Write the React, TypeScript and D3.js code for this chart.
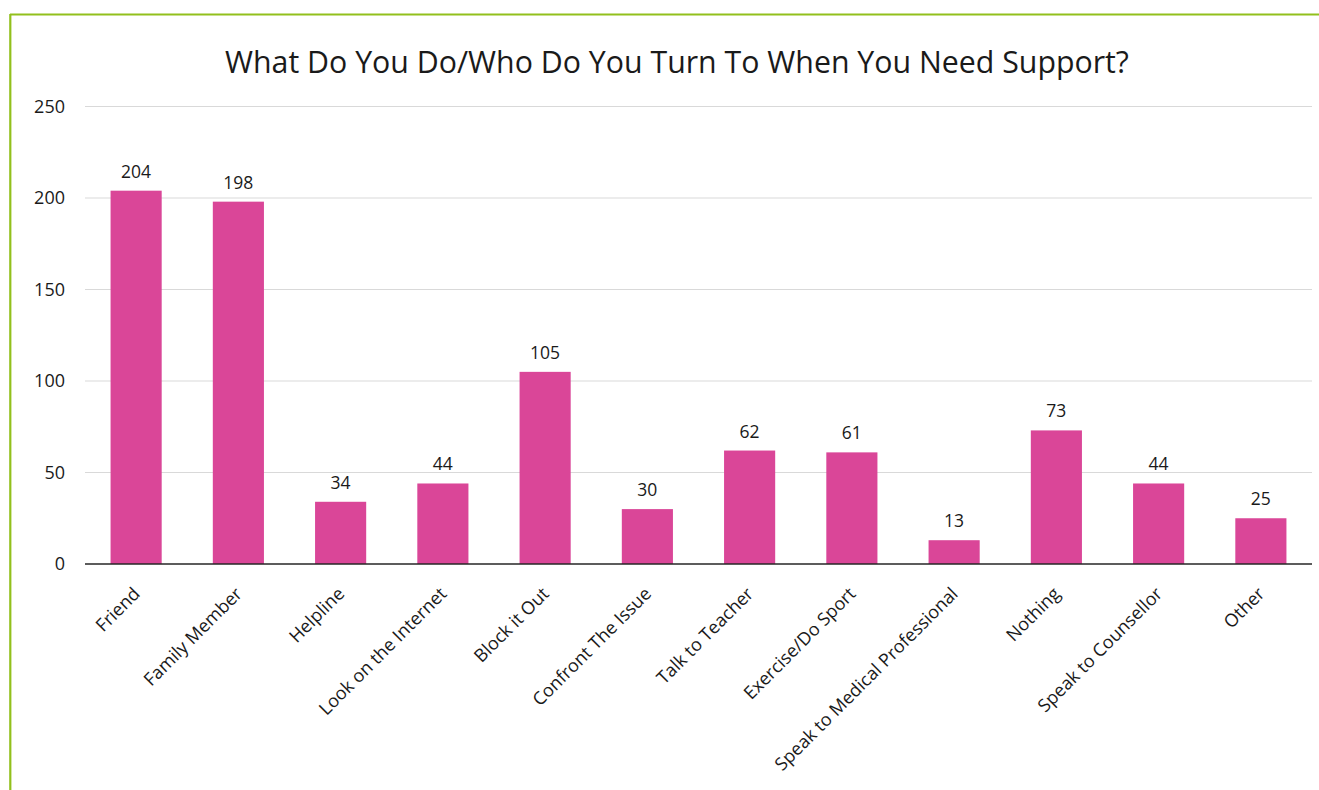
import React from "react";
import * as d3 from "d3";

const categories = [
  "Friend",
  "Family Member",
  "Helpline",
  "Look on the Internet",
  "Block it Out",
  "Confront The Issue",
  "Talk to Teacher",
  "Exercise/Do Sport",
  "Speak to Medical Professional",
  "Nothing",
  "Speak to Counsellor",
  "Other",
];
const values = [204, 198, 34, 44, 105, 30, 62, 61, 13, 73, 44, 25];
const yTicks = [0, 50, 100, 150, 200, 250];
const title = "What Do You Do/Who Do You Turn To When You Need Support?";

export default function App() {
  const W = 1319;
  const H = 790;
  const left = 85;
  const right = 1312;
  const top = 106.5;
  const bottom = 564;
  const x = d3
    .scaleBand<string>()
    .domain(categories)
    .range([left, right])
    .paddingInner(0.5)
    .paddingOuter(0.25);
  const y = d3.scaleLinear().domain([0, 250]).range([bottom, top]);
  const font = "'Open Sans', 'Liberation Sans', sans-serif";
  return (
    <svg
      width={W}
      height={H}
      style={{ position: "absolute", left: 0, top: 0, background: "#fff" }}
      fontFamily={font}
    >
      <rect x={0} y={0} width={W} height={H} fill="#fff" />
      <line x1={10} y1={14.5} x2={W} y2={14.5} stroke="#92c01c" strokeWidth={2.2} />
      <line x1={10.3} y1={14} x2={10.3} y2={H} stroke="#92c01c" strokeWidth={2.2} />
      <text x={677} y={73} textAnchor="middle" fontSize={30.3} fill="#1a1a1a">
        {title}
      </text>
      {yTicks.map((t) => (
        <g key={t}>
          {t > 0 && (
            <line x1={left} x2={right} y1={y(t)} y2={y(t)} stroke="#d9d9d9" strokeWidth={1} />
          )}
          <text x={65} y={y(t)} dy="0.35em" textAnchor="end" fontSize={18} fill="#1a1a1a">
            {t}
          </text>
        </g>
      ))}
      {categories.map((c, i) => (
        <g key={c}>
          <rect
            x={x(c)}
            y={y(values[i])}
            width={x.bandwidth()}
            height={bottom - y(values[i])}
            fill="#da4698"
          />
          <text
            x={(x(c) as number) + x.bandwidth() / 2}
            y={y(values[i]) - 13}
            textAnchor="middle"
            fontSize={17.5}
            fill="#1a1a1a"
          >
            {values[i]}
          </text>
          <text
            transform={`translate(${(x(c) as number) + x.bandwidth() / 2 - 4},${bottom + 22}) rotate(-45)`}
            textAnchor="end"
            dy="0.7em"
            fontSize={18}
            fill="#1a1a1a"
          >
            {c}
          </text>
        </g>
      ))}
      <line x1={left} x2={right} y1={bottom} y2={bottom} stroke="#262626" strokeWidth={1.3} />
    </svg>
  );
}
